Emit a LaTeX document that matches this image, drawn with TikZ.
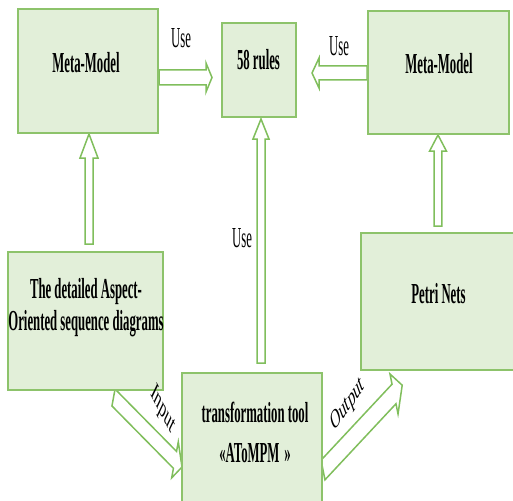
\documentclass[tikz,border=0pt]{standalone}
\usepackage{fontspec}
\setmainfont{Liberation Serif}
\newfontfamily\narrowserif{Liberation Serif}[FakeStretch=0.44]
\usepackage{graphicx}
\usetikzlibrary{calc,backgrounds}

\definecolor{boxfill}{RGB}{226,239,217}
\definecolor{boxline}{RGB}{141,195,107}
\definecolor{arrowline}{RGB}{128,190,92}

\tikzset{
  box/.style={draw=boxline, fill=boxfill, line width=2pt, rectangle, inner sep=0pt},
  title/.style={font=\narrowserif\bfseries\fontsize{29}{32}\selectfont, inner sep=0pt, anchor=base},
  note/.style={font=\narrowserif\fontsize{29}{32}\selectfont, inner sep=0pt, anchor=base},
  slanted/.style={font=\rmfamily\fontsize{27}{30}\selectfont, inner sep=0pt},
  hollow/.style={draw=arrowline, fill=white, line width=1.5pt, line join=miter},
}

% Outlined block arrow from #1 (tail centre) to #2 (tip):
% #3 half shaft width, #4 half head width, #5 head length,
% #6 angle of the cross lines against the arrow axis.
\newcommand\hollowarrow[6]{%
  \coordinate (hb) at ($(#2)!#5!(#1)$);
  \draw[hollow] ($(#1)!#3!#6:(#2)$) -- ($(hb)!#3!#6:(#2)$) -- ($(hb)!#4!#6:(#2)$) -- (#2)
    -- ($(hb)!-#4!#6:(#2)$) -- ($(hb)!-#3!#6:(#2)$) -- ($(#1)!-#3!#6:(#2)$) -- cycle;
}

\begin{document}
\begin{tikzpicture}[x=1pt, y=-1pt]
  \useasboundingbox (0,0) rectangle (513,500);
  \clip (0,0) rectangle (513,500);

  % boxes
  \node[box, minimum width=140pt, minimum height=124pt] (mmL)   at (88,71) {};
  \node[box, minimum width=74pt,  minimum height=94pt]  (rules) at (259,70) {};
  \node[box, minimum width=141pt, minimum height=123pt] (mmR)   at (438.5,72.5) {};
  \node[box, minimum width=155pt, minimum height=138pt] (aosd)  at (85.5,321) {};
  \node[box, minimum width=140pt, minimum height=137pt] (tool)  at (252,441.5) {};
  \node[box, minimum width=157pt, minimum height=137pt] (petri) at (439.5,301.5) {};

  % box texts
  \node[title] (tmmL)   at (86,73)    {Meta-Model};
  \node[title] (trules) at (258.5,70) {58 rules};
  \node[title] (tmmR)   at (439,74)   {Meta-Model};
  \node[title] (taosd1) at (86,298)   {The detailed Aspect-};
  \node[title] (taosd2) at (86,330)   {Oriented sequence diagrams};
  \node[title] (tpetri) at (438.5,303) {Petri Nets};
  \node[title] (ttool1) at (255,422)  {transformation tool};
  \node[title] (ttool2) at (255,462)  {«AToMPM\,»};

  % arrow end points
  \coordinate (u1a) at ($(mmL.east)+(0,6.5)$);
  \coordinate (u1b) at ($(rules.west)+(-9,7.5)$);
  \coordinate (u2a) at ($(mmR.west)+(0,0.5)$);
  \coordinate (u2b) at ($(rules.east)+(15,3)$);
  \coordinate (m1a) at ($(aosd.north)+(3.5,-7)$);
  \coordinate (m1b) at ($(mmL.south)+(1,0)$);
  \coordinate (u3a) at ($(tool.north)+(9,-9)$);
  \coordinate (u3b) at ($(rules.south)+(2,1)$);
  \coordinate (m2a) at ($(petri.north)+(-1.5,-6)$);
  \coordinate (m2b) at ($(mmR.south)+(-0.5,0)$);
  \coordinate (ina) at ($(aosd.south)+(28,6.5)$);
  \coordinate (inb) at ($(tool.west)+(1,25.5)$);
  \coordinate (outa) at ($(tool.east)+(0,28.5)$);
  \coordinate (outb) at ($(petri.south)+(-37.3,14.2)$);

  \begin{scope}[on background layer]
    \hollowarrow{u1a}{u1b}{7.5pt}{14.5pt}{6pt}{90}
    \hollowarrow{u2a}{u2b}{7pt}{15pt}{7pt}{90}
    \hollowarrow{m1a}{m1b}{4pt}{9pt}{24pt}{90}
    \hollowarrow{u3a}{u3b}{4pt}{8pt}{20pt}{90}
    \hollowarrow{m2a}{m2b}{3.8pt}{8.4pt}{16pt}{90}
    \hollowarrow{ina}{inb}{8.6pt}{18.3pt}{10pt}{-55}
    \hollowarrow{outa}{outb}{10pt}{20.4pt}{12pt}{54.4}
  \end{scope}

  % connector labels
  \node[note] (use1) at (181,48)  {Use};
  \node[note] (use2) at (339,56)  {Use};
  \node[note] (use3) at (242,247) {Use};
  \node[slanted] (lin)  at (163,410) {\scalebox{0.5}[1]{\rotatebox{-43.7}{Input}}};
  \node[slanted] (lout) at (348,405) {\scalebox{0.5}[1]{\rotatebox{36}{Output}}};
\end{tikzpicture}
\end{document}
